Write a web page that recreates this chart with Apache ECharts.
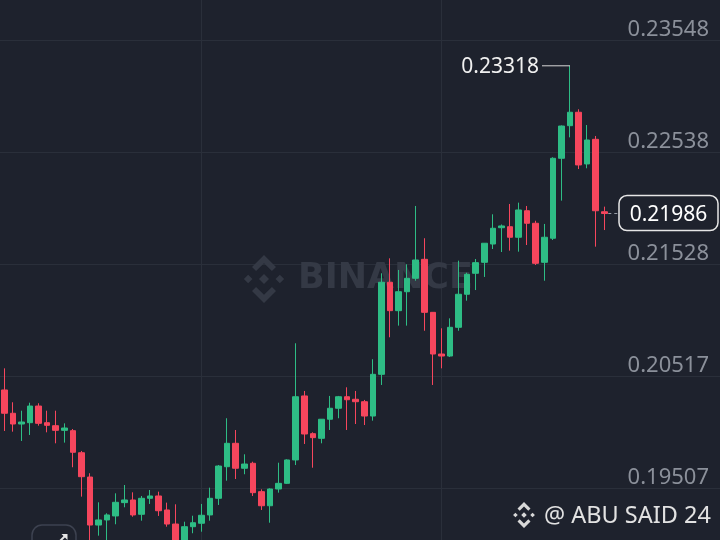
<!DOCTYPE html>
<html><head><meta charset="utf-8">
<script src="https://cdn.jsdelivr.net/npm/echarts@6/dist/echarts.min.js"></script>
<style>html,body{margin:0;padding:0;background:#1e222d;overflow:hidden}#c{width:720px;height:540px}</style>
</head><body><div id="c"></div>
<script>
// candle values (oldest -> newest)
const opens  = [0.20395,0.20185,0.20088,0.20100,0.20250,0.20100,0.20073,0.20031,0.20028,0.19829,
                0.19610,0.19177,0.19223,0.19259,0.19379,0.19403,0.19274,0.19418,0.19439,0.19313,
                0.19186,0.18988,0.19162,0.19193,0.19268,0.19418,0.19703,0.19914,0.19689,0.19734,
                0.19478,0.19351,0.19502,0.19553,0.19764,0.20341,0.20001,0.19959,0.20131,0.20230,
                0.20334,0.20311,0.20289,0.20160,0.20536,0.21366,0.21110,0.21281,0.21402,0.21573,
                0.21095,0.20719,0.20701,0.20960,0.21258,0.21447,0.21546,0.21711,0.21858,0.21867,
                0.21772,0.22011,0.21898,0.21546,0.21763,0.22484,0.22778,0.22899,0.22433,0.22655,
                0.22002];
const closes = [0.20185,0.20088,0.20106,0.20250,0.20094,0.20076,0.20031,0.20052,0.19833,0.19613,
                0.19177,0.19223,0.19268,0.19382,0.19403,0.19268,0.19418,0.19439,0.19306,0.19186,
                0.18997,0.19162,0.19198,0.19265,0.19418,0.19709,0.19914,0.19689,0.19727,0.19469,
                0.19351,0.19502,0.19553,0.19764,0.20334,0.19998,0.19965,0.20131,0.20230,0.20334,
                0.20307,0.20289,0.20160,0.20536,0.21366,0.21110,0.21281,0.21402,0.21567,0.21095,
                0.20719,0.20701,0.20960,0.21258,0.21438,0.21543,0.21718,0.21853,0.21874,0.21772,
                0.22018,0.21898,0.21537,0.21772,0.22484,0.22775,0.22899,0.22424,0.22649,0.22011,
                0.21986];
const lows   = [0.20025,0.20019,0.19935,0.19989,0.20073,0.20013,0.19914,0.19920,0.19698,0.19433,
                0.18970,0.19081,0.18970,0.19184,0.19337,0.19252,0.19216,0.19367,0.19259,0.19162,
                0.18934,0.18934,0.19103,0.19117,0.19216,0.19358,0.19577,0.19592,0.19635,0.19439,
                0.19313,0.19198,0.19469,0.19547,0.19718,0.19908,0.19694,0.19914,0.20034,0.20140,
                0.20034,0.20088,0.20079,0.20118,0.20440,0.20870,0.20975,0.20975,0.21380,0.20929,
                0.20440,0.20590,0.20692,0.20929,0.21200,0.21296,0.21414,0.21666,0.21639,0.21651,
                0.21642,0.21702,0.21522,0.21380,0.21747,0.22102,0.22673,0.22387,0.22394,0.21687,
                0.21837];
const highs  = [0.20590,0.20284,0.20208,0.20280,0.20275,0.20208,0.20208,0.20094,0.20043,0.19845,
                0.19644,0.19382,0.19283,0.19463,0.19538,0.19472,0.19439,0.19493,0.19478,0.19379,
                0.19364,0.19207,0.19261,0.19367,0.19514,0.19718,0.20140,0.20034,0.19815,0.19748,
                0.19499,0.19508,0.19739,0.19770,0.20816,0.20386,0.20013,0.20133,0.20341,0.20341,
                0.20419,0.20386,0.20305,0.20672,0.21447,0.21582,0.21477,0.21528,0.22054,0.21763,
                0.21098,0.20951,0.21041,0.21561,0.21452,0.21576,0.21720,0.21979,0.21887,0.22072,
                0.22084,0.22054,0.21921,0.21892,0.22493,0.22780,0.23318,0.22926,0.22784,0.22685,
                0.22048];
const yTicks = [0.19507, 0.20517, 0.21528, 0.22538, 0.23548];
const slotCount = 84;            // candle slots visible across the chart (incl. empty right space)
const gridLineSlots = [23, 51];  // vertical grid lines sit on these candles
const watermarkText = 'BINANCE';
const signatureText = '@ ABU SAID 24';

const BG = '#1e222d', GRID = '#2a2f3a', UP = '#2ebd85', DOWN = '#f6465d';
const slots = [];
for (let i = 0; i < slotCount; i++) slots.push(String(i + 1));
const ohlc = opens.map((o, i) => [o, closes[i], lows[i], highs[i]]);

const chart = echarts.init(document.getElementById('c'), null, {renderer: 'canvas'});
chart.setOption({
  backgroundColor: BG,
  animation: false,
  grid: {left: 0, right: 0, top: 0, bottom: 0},
  xAxis: {
    type: 'category', data: slots,
    axisLine: {show: false}, axisTick: {show: false}, axisLabel: {show: false}, splitLine: {show: false}
  },
  yAxis: {
    type: 'value', position: 'right', scale: true, min: 0.190421, max: 0.239113,
    axisLine: {show: false},
    axisTick: {show: false, customValues: yTicks},
    axisLabel: {
      inside: true, customValues: yTicks, formatter: v => v.toFixed(5),
      color: '#8b909a', fontSize: 22, fontFamily: 'Noto Sans', margin: 11,
      verticalAlign: 'bottom', align: 'right'
    },
    splitLine: {show: true, lineStyle: {color: GRID, width: 1}}
  },
  series: [{
    type: 'candlestick', data: ohlc, clip: false, barWidth: 6,
    itemStyle: {color: UP, color0: DOWN, borderColor: UP, borderColor0: DOWN, borderWidth: 1},
    markLine: {
      silent: true, symbol: 'none', z: 0, animation: false,
      label: {show: false},
      lineStyle: {color: GRID, type: 'solid', width: 1},
      data: gridLineSlots.map(s => ({xAxis: s}))
    }
  }]
});

function logo(cx, cy, s, color, z) {
  const d = (x, y, r) => ({type: 'polygon', z: z, silent: true,
    shape: {points: [[x, y - r], [x + r, y], [x, y + r], [x - r, y]]}, style: {fill: color}});
  const chev = sg => ({type: 'polygon', z: z, silent: true, shape: {points: [
    [cx, cy - sg * s], [cx + 0.5 * s, cy - sg * 0.5 * s], [cx + 0.33 * s, cy - sg * 0.33 * s],
    [cx, cy - sg * 0.66 * s], [cx - 0.33 * s, cy - sg * 0.33 * s], [cx - 0.5 * s, cy - sg * 0.5 * s]]},
    style: {fill: color}});
  return [d(cx, cy, 0.21 * s), d(cx - 0.66 * s, cy, 0.18 * s), d(cx + 0.66 * s, cy, 0.18 * s), chev(1), chev(-1)];
}

const hiIdx = highs.indexOf(Math.max.apply(null, highs));
const pHi = chart.convertToPixel({xAxisIndex: 0, yAxisIndex: 0}, [hiIdx, highs[hiIdx]]);
const last = closes.length - 1;
const pLast = chart.convertToPixel({xAxisIndex: 0, yAxisIndex: 0}, [last, closes[last]]);

const g = [];
// watermark
logo(264, 279, 24, '#343945', 0).forEach(e => g.push(e));
g.push({type: 'text', z: 0, silent: true, x: 298, y: 279,
  style: {text: watermarkText, fill: '#343945', font: 'bold 35px "DejaVu Sans"', verticalAlign: 'middle', align: 'left'}});
// highest price annotation
g.push({type: 'line', z: 50, shape: {x1: pHi[0] - 28, y1: pHi[1], x2: pHi[0], y2: pHi[1]},
  style: {stroke: '#d6d6d6', lineWidth: 1}});
g.push({type: 'text', z: 50, x: pHi[0] - 31, y: pHi[1] + 1,
  style: {text: highs[hiIdx].toFixed(5), fill: '#f0f0f0', font: '21px "Noto Sans"', align: 'right', verticalAlign: 'middle'}});
// last price
g.push({type: 'line', z: 50, shape: {x1: pLast[0] + 4, y1: pLast[1], x2: 618, y2: pLast[1]},
  style: {stroke: '#9aa0aa', lineWidth: 1, lineDash: [3, 3]}});
g.push({type: 'rect', z: 50, shape: {x: 619, y: pLast[1] - 18, width: 99, height: 35, r: 8},
  style: {fill: BG, stroke: '#e6e6e6', lineWidth: 1.5}});
g.push({type: 'text', z: 51, x: 668.5, y: pLast[1] + 1,
  style: {text: closes[last].toFixed(5), fill: '#ffffff', font: '21px "Noto Sans"', align: 'center', verticalAlign: 'middle'}});
// signature
logo(524, 515, 13, '#d8d8d8', 60).forEach(e => g.push(e));
g.push({type: 'text', z: 60, x: 544, y: 516,
  style: {text: signatureText, fill: '#e2e2e2', font: '23.5px "Noto Sans"', align: 'left', verticalAlign: 'middle'}});
// bottom-left button
g.push({type: 'rect', z: 60, shape: {x: 32, y: 525, width: 44, height: 32, r: 10},
  style: {fill: 'none', stroke: '#3d4250', lineWidth: 1.5}});
g.push({type: 'line', z: 61, shape: {x1: 60, y1: 541, x2: 65, y2: 536}, style: {stroke: '#e6e6e6', lineWidth: 2}});
g.push({type: 'polygon', z: 61, shape: {points: [[61.5, 534], [67.5, 534], [67.5, 540]]}, style: {fill: '#e6e6e6'}});

chart.setOption({graphic: g});
</script>
</body></html>
